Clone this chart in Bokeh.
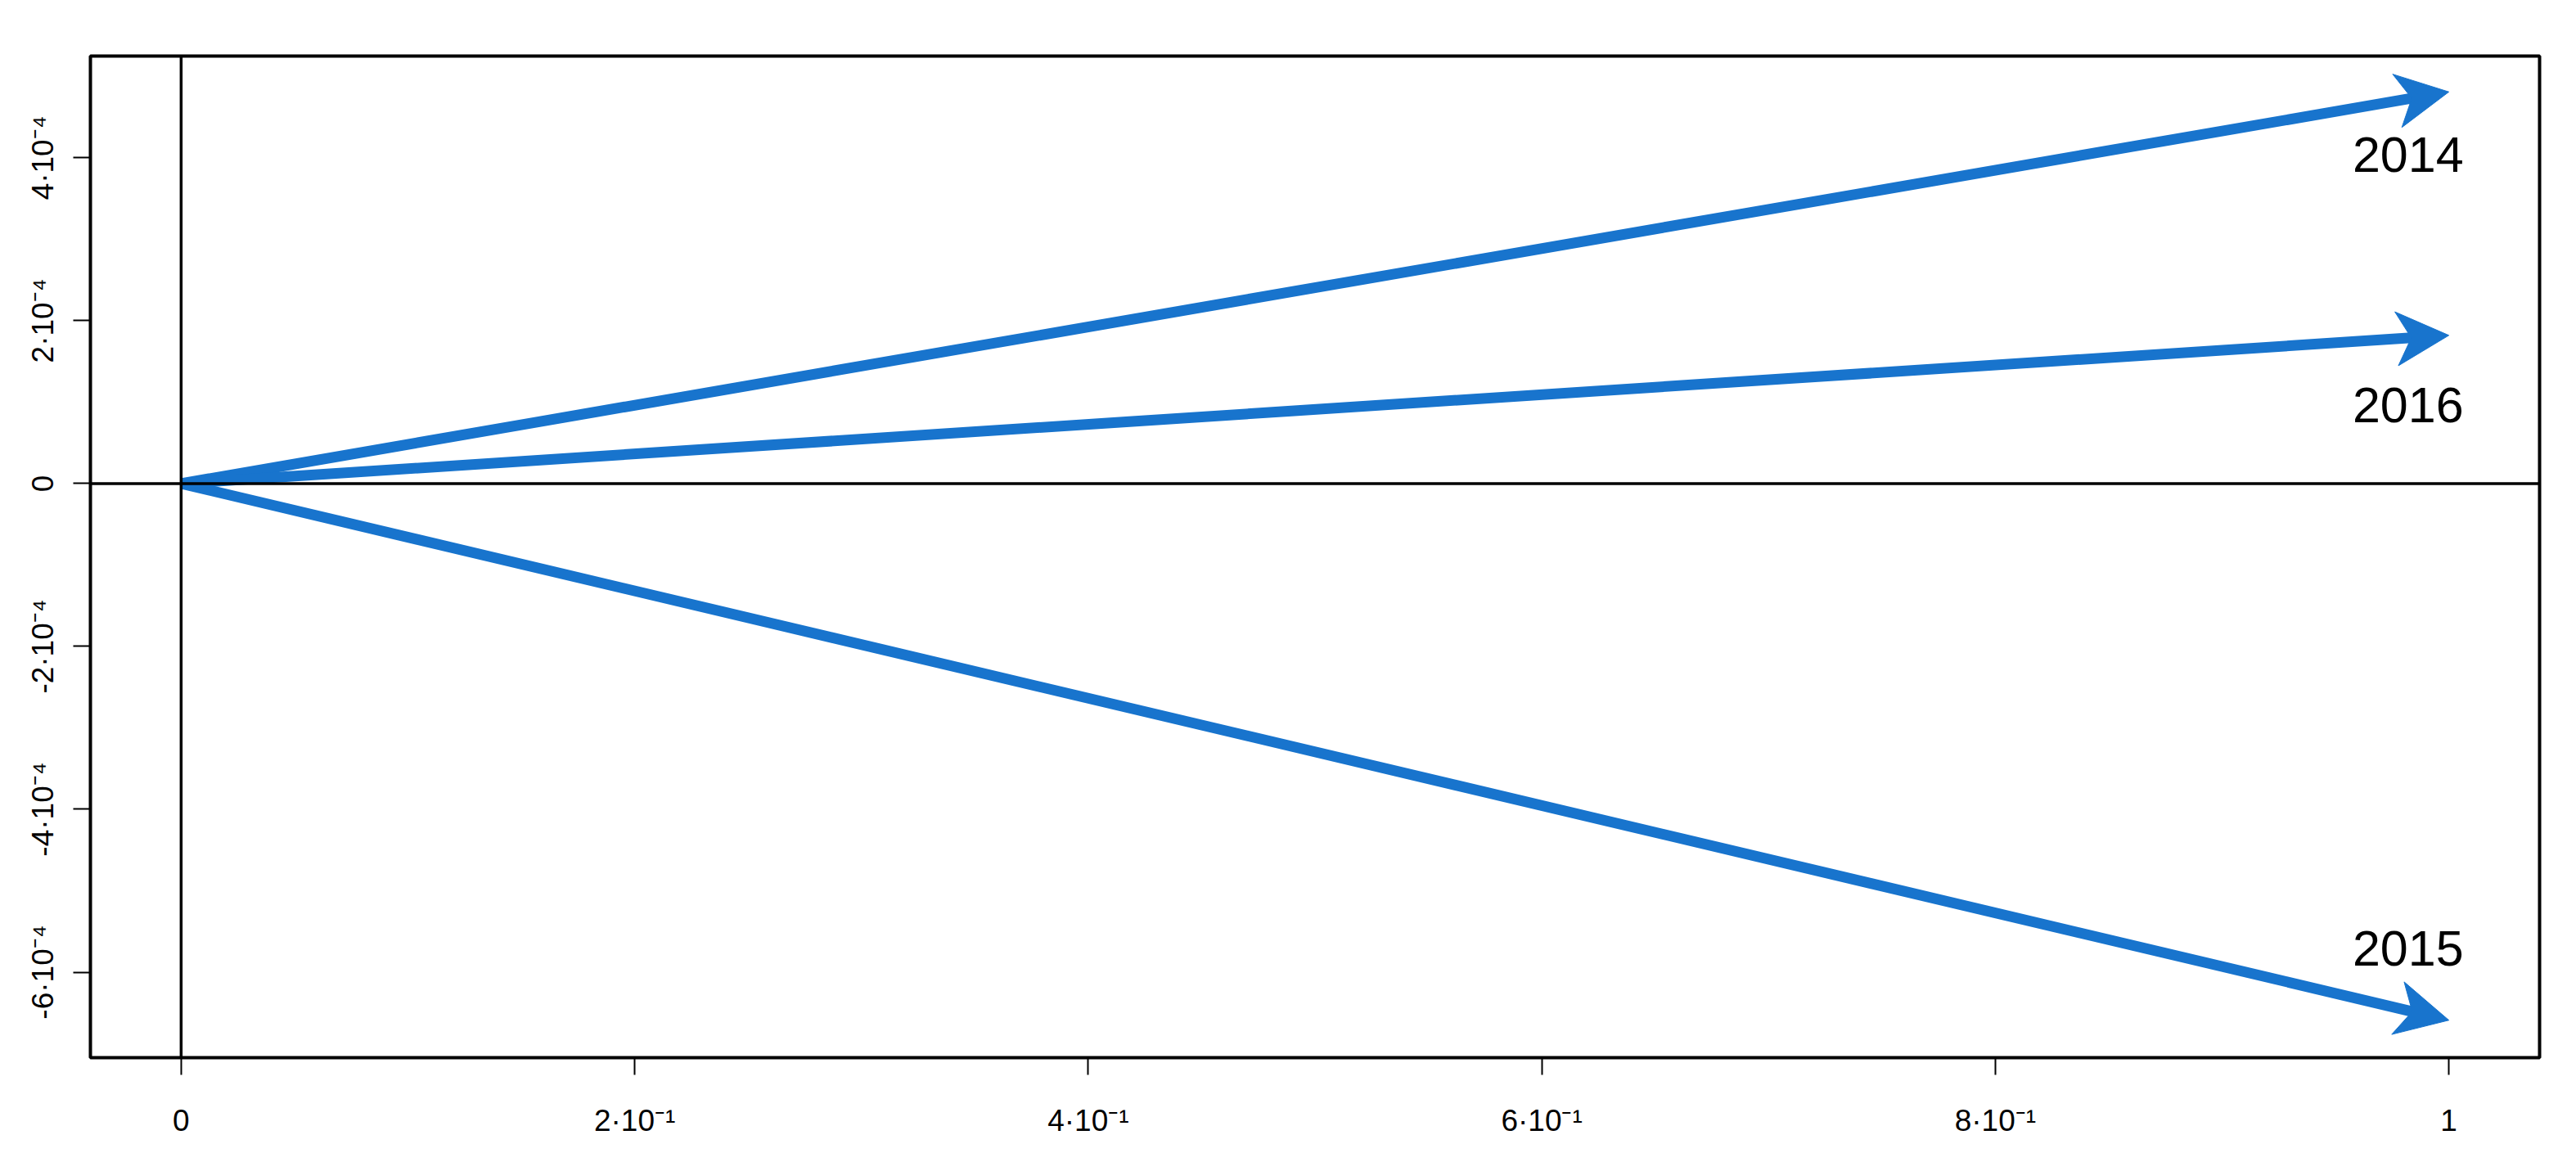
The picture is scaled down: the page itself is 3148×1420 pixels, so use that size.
import math
from bokeh.plotting import figure
from bokeh.models import ColumnDataSource, Range1d, Span, FixedTicker
from bokeh.core.properties import value
from bokeh.embed import file_html
from bokeh.resources import INLINE

# ---- data ----
years = ["2014", "2015", "2016"]
x_start = [0.0, 0.0, 0.0]
y_start = [0.0, 0.0, 0.0]
x_end = [1.0, 1.0, 1.0]
y_end = [4.81e-4, -6.59e-4, 1.82e-4]
label_x = [0.982, 0.982, 0.982]
label_y = [4.04e-4, -5.71e-4, 0.965e-4]

x_ticks = [0.0, 0.2, 0.4, 0.6, 0.8, 1.0]
x_tick_labels = ["0", "2·10⁻¹", "4·10⁻¹", "6·10⁻¹", "8·10⁻¹", "1"]
y_ticks = [-6e-4, -4e-4, -2e-4, 0.0, 2e-4, 4e-4]
y_tick_labels = ["-6·10⁻⁴", "-4·10⁻⁴", "-2·10⁻⁴", "0", "2·10⁻⁴", "4·10⁻⁴"]

X_RANGE = (-0.04, 1.04)
Y_RANGE = (-7.05e-4, 5.25e-4)

BLUE = "#1874CD"
FONT = "Liberation Sans"
FRAME_W, FRAME_H = 2993, 1224

p = figure(frame_width=FRAME_W, frame_height=FRAME_H,
           x_range=Range1d(*X_RANGE), y_range=Range1d(*Y_RANGE),
           output_backend="svg", toolbar_location=None,
           min_border_left=110, min_border_right=29,
           min_border_top=68, min_border_bottom=112)
p.background_fill_color = "white"
p.border_fill_color = "white"
p.xgrid.visible = False
p.ygrid.visible = False
p.outline_line_color = "black"
p.outline_line_width = 4
p.outline_line_alpha = 1.0

# axes
p.xaxis.ticker = FixedTicker(ticks=x_ticks)
p.yaxis.ticker = FixedTicker(ticks=y_ticks)
p.xaxis.major_label_overrides = dict(zip(x_ticks, x_tick_labels))
p.yaxis.major_label_overrides = dict(zip(y_ticks, y_tick_labels))
for ax in (p.xaxis, p.yaxis):
    ax.axis_line_color = None
    ax.major_tick_in = 0
    ax.major_tick_out = 21
    ax.major_tick_line_color = "black"
    ax.major_tick_line_width = 2
    ax.minor_tick_line_color = None
    ax.major_label_text_font = FONT
    ax.major_label_text_color = "black"
p.xaxis.major_label_text_font_size = "37px"
p.xaxis.major_label_standoff = 35
p.yaxis.major_label_text_font_size = "37px"
p.yaxis.major_label_orientation = "vertical"
p.yaxis.major_label_standoff = 16

# arrow geometry (head drawn in screen pixels, converted via the plot scales)
sx = FRAME_W / (X_RANGE[1] - X_RANGE[0])
sy = FRAME_H / (Y_RANGE[1] - Y_RANGE[0])
HEAD_L, HEAD_W, NOTCH = 64.0, 66.0, 46.0
shaft_x1, shaft_y1, heads_x, heads_y = [], [], [], []
for xs, ys, xe, ye in zip(x_start, y_start, x_end, y_end):
    dxp, dyp = (xe - xs) * sx, (ye - ys) * sy
    n = math.hypot(dxp, dyp)
    ux, uy = dxp / n, dyp / n
    nx, ny = -uy, ux
    shaft_x1.append(xe - (NOTCH - 4) * ux / sx)
    shaft_y1.append(ye - (NOTCH - 4) * uy / sy)
    heads_x.append([xe,
                    xe + (-HEAD_L * ux + HEAD_W / 2 * nx) / sx,
                    xe - NOTCH * ux / sx,
                    xe + (-HEAD_L * ux - HEAD_W / 2 * nx) / sx])
    heads_y.append([ye,
                    ye + (-HEAD_L * uy + HEAD_W / 2 * ny) / sy,
                    ye - NOTCH * uy / sy,
                    ye + (-HEAD_L * uy - HEAD_W / 2 * ny) / sy])

p.segment(x0=x_start, y0=y_start, x1=shaft_x1, y1=shaft_y1,
          line_color=BLUE, line_width=13, line_cap="butt")
p.patches(xs=heads_x, ys=heads_y,
          fill_color=BLUE, line_color=BLUE, line_width=1)

# reference lines at x=0, y=0
p.add_layout(Span(location=0, dimension="height", line_color="black", line_width=3.5))
p.add_layout(Span(location=0, dimension="width", line_color="black", line_width=3.5))

# year labels
lsrc = ColumnDataSource(dict(x=label_x, y=label_y, t=years))
p.text(x="x", y="y", text="t", source=lsrc, text_align="center",
       text_baseline="middle", text_font=value(FONT),
       text_font_size="61px", text_color="black")

open("out.html", "w").write(file_html(p, INLINE))
